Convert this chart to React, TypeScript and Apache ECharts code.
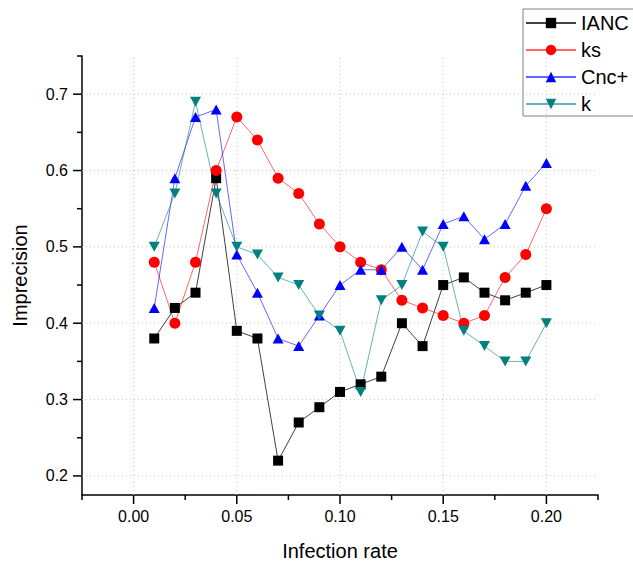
import React, { useEffect, useRef } from 'react';
import * as echarts from 'echarts';

const infectionRates = [0.01, 0.02, 0.03, 0.04, 0.05, 0.06, 0.07, 0.08, 0.09, 0.1, 0.11, 0.12, 0.13, 0.14, 0.15, 0.16, 0.17, 0.18, 0.19, 0.2];
const ianc = [0.38, 0.42, 0.44, 0.59, 0.39, 0.38, 0.22, 0.27, 0.29, 0.31, 0.32, 0.33, 0.40, 0.37, 0.45, 0.46, 0.44, 0.43, 0.44, 0.45];
const ks = [0.48, 0.40, 0.48, 0.60, 0.67, 0.64, 0.59, 0.57, 0.53, 0.50, 0.48, 0.47, 0.43, 0.42, 0.41, 0.40, 0.41, 0.46, 0.49, 0.55];
const cncPlus = [0.42, 0.59, 0.67, 0.68, 0.49, 0.44, 0.38, 0.37, 0.41, 0.45, 0.47, 0.47, 0.50, 0.47, 0.53, 0.54, 0.51, 0.53, 0.58, 0.61];
const kVals = [0.50, 0.57, 0.69, 0.57, 0.50, 0.49, 0.46, 0.45, 0.41, 0.39, 0.31, 0.43, 0.45, 0.52, 0.50, 0.39, 0.37, 0.35, 0.35, 0.40];

const seriesNames = ['IANC', 'ks', 'Cnc+', 'k'];

const xMajorTicks = [0, 0.05, 0.1, 0.15, 0.2];
const xMinorTicks = [-0.025, 0.025, 0.075, 0.125, 0.175, 0.225];
const yMajorTicks = [0.2, 0.3, 0.4, 0.5, 0.6, 0.7];
const yMinorTicks = [0.25, 0.35, 0.45, 0.55, 0.65, 0.75];

const X_MIN = -0.025;
const X_MAX = 0.225;
const Y_MIN = 0.175;
const Y_MAX = 0.75;

const FONT = '"Liberation Sans", Arial, Helvetica, sans-serif';
const GRID_COLOR = '#c4c4c4';

function isMultiple(v: number, step: number) {
  const r = v / step;
  return Math.abs(r - Math.round(r)) < 1e-6;
}

export default function App() {
  const ref = useRef<HTMLDivElement>(null);

  useEffect(() => {
    document.body.style.margin = '0';
    if (!ref.current) return;
    const chart = echarts.init(ref.current, undefined, { renderer: 'svg' });

    const mk = (vals: number[]) => infectionRates.map((x, i) => [x, vals[i]]);

    const xTickData = xMajorTicks.map((v) => [v, Y_MIN, 1]).concat(xMinorTicks.map((v) => [v, Y_MIN, 0]));
    const yTickData = yMajorTicks.map((v) => [X_MIN, v, 1]).concat(yMinorTicks.map((v) => [X_MIN, v, 0]));

    const option: any = {
      animation: false,
      backgroundColor: '#ffffff',
      textStyle: { fontFamily: FONT },
      grid: { left: 82, top: 56, right: 35, bottom: 70, containLabel: false },
      legend: {
        data: seriesNames,
        left: 523,
        top: 9,
        orient: 'vertical',
        itemWidth: 50,
        itemHeight: 13,
        itemGap: 7,
        padding: [4, 40, 2, 2],
        borderColor: '#808080',
        borderWidth: 1,
        textStyle: { fontSize: 20, color: '#000', fontFamily: FONT },
      },
      xAxis: {
        type: 'value',
        min: X_MIN,
        max: X_MAX,
        interval: 0.025,
        name: 'Infection rate',
        nameLocation: 'middle',
        nameGap: 46,
        nameTextStyle: { fontSize: 20, color: '#000', fontFamily: FONT },
        axisLine: { onZero: false, lineStyle: { color: '#000', width: 1.5 } },
        axisTick: { show: false },
        splitLine: { show: false },
        axisLabel: {
          fontSize: 16,
          color: '#000',
          margin: 13,
          fontFamily: FONT,
          formatter: (v: number) => (isMultiple(v, 0.05) ? v.toFixed(2) : ''),
        },
      },
      yAxis: {
        type: 'value',
        min: Y_MIN,
        max: Y_MAX,
        interval: 0.025,
        name: 'Imprecision',
        nameLocation: 'middle',
        nameGap: 52,
        nameTextStyle: { fontSize: 20, color: '#000', fontFamily: FONT },
        axisLine: { onZero: false, lineStyle: { color: '#000', width: 1.5 } },
        axisTick: { show: false },
        splitLine: { show: false },
        axisLabel: {
          fontSize: 16,
          color: '#000',
          margin: 14,
          fontFamily: FONT,
          formatter: (v: number) => (isMultiple(v, 0.1) ? v.toFixed(1) : ''),
        },
      },
      series: [
        {
          type: 'custom',
          z: 1,
          silent: true,
          clip: false,
          encode: { x: 0, y: 1 },
          data: xTickData,
          renderItem: (params: any, api: any) => {
            const x = api.value(0);
            const major = api.value(2) === 1;
            const b = api.coord([x, Y_MIN]);
            const t = api.coord([x, Y_MAX]);
            const children: any[] = [
              { type: 'line', shape: { x1: b[0], y1: b[1], x2: b[0], y2: b[1] + (major ? 9 : 5) }, style: { stroke: '#000', lineWidth: 1.5 } },
            ];
            if (major) {
              children.push({ type: 'line', shape: { x1: b[0], y1: b[1], x2: t[0], y2: t[1] }, style: { stroke: GRID_COLOR, lineWidth: 1, lineDash: [1, 3] } });
            }
            return { type: 'group', children };
          },
        },
        {
          type: 'custom',
          z: 1,
          silent: true,
          clip: false,
          encode: { x: 0, y: 1 },
          data: yTickData,
          renderItem: (params: any, api: any) => {
            const y = api.value(1);
            const major = api.value(2) === 1;
            const l = api.coord([X_MIN, y]);
            const r = api.coord([X_MAX, y]);
            const children: any[] = [
              { type: 'line', shape: { x1: l[0], y1: l[1], x2: l[0] - (major ? 9 : 5), y2: l[1] }, style: { stroke: '#000', lineWidth: 1.5 } },
            ];
            if (major) {
              children.push({ type: 'line', shape: { x1: l[0], y1: l[1], x2: r[0], y2: r[1] }, style: { stroke: GRID_COLOR, lineWidth: 1, lineDash: [1, 3] } });
            }
            return { type: 'group', children };
          },
        },
        {
          name: 'IANC',
          type: 'line',
          z: 3,
          data: mk(ianc),
          symbol: 'rect',
          symbolSize: 10,
          itemStyle: { color: '#000000' },
          lineStyle: { color: '#000000', width: 1, opacity: 0.75 },
        },
        {
          name: 'ks',
          type: 'line',
          z: 3,
          data: mk(ks),
          symbol: 'circle',
          symbolSize: 11,
          itemStyle: { color: '#ff0000' },
          lineStyle: { color: '#ff0000', width: 1, opacity: 0.6 },
        },
        {
          name: 'Cnc+',
          type: 'line',
          z: 3,
          data: mk(cncPlus),
          symbol: 'triangle',
          symbolSize: [11, 10],
          itemStyle: { color: '#0000ff' },
          lineStyle: { color: '#0000ff', width: 1, opacity: 0.6 },
        },
        {
          name: 'k',
          type: 'line',
          z: 3,
          data: mk(kVals),
          symbol: 'path://M0,0L10,0L5,9Z',
          symbolSize: [11, 10],
          itemStyle: { color: '#008080' },
          lineStyle: { color: '#008080', width: 1, opacity: 0.6 },
        },
      ],
    };

    chart.setOption(option);
    return () => chart.dispose();
  }, []);

  return <div ref={ref} style={{ width: 633, height: 566 }} />;
}
